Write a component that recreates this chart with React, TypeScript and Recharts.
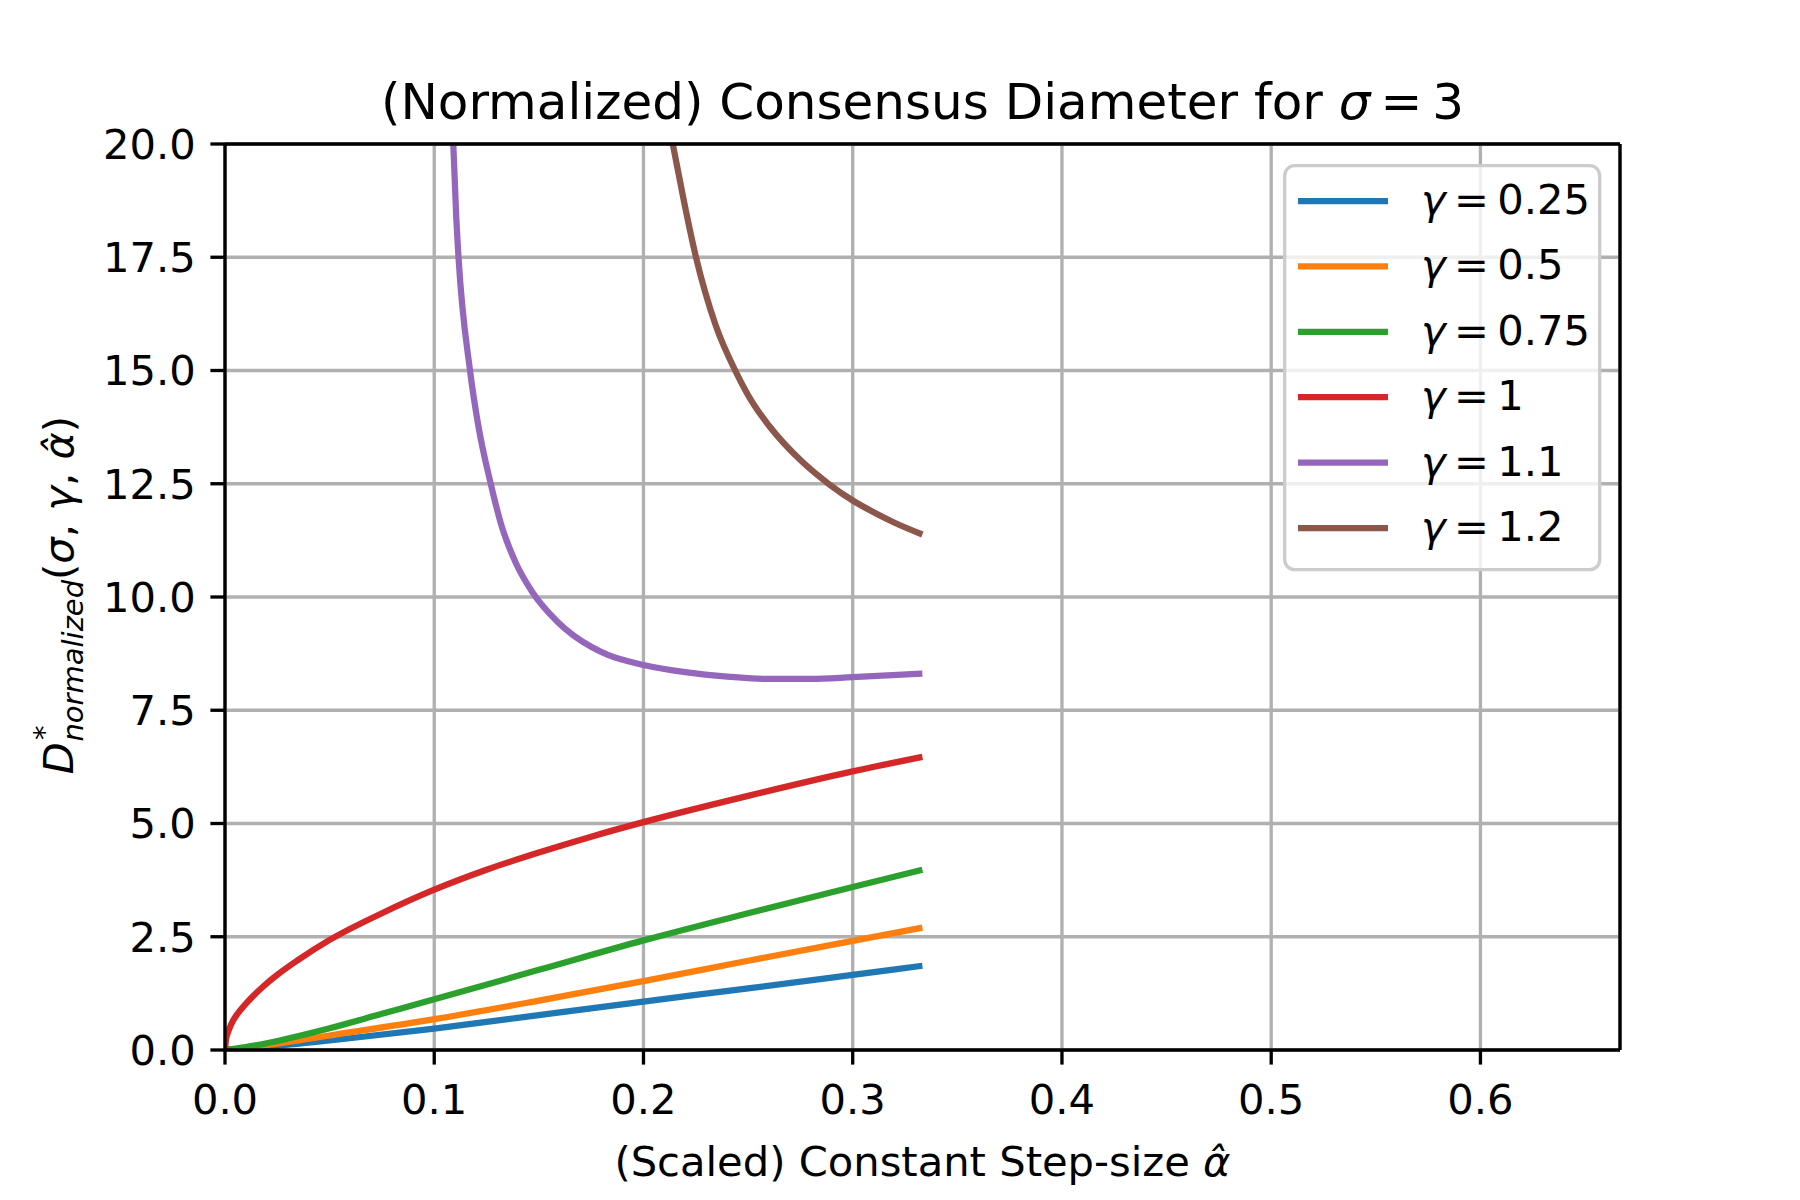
import React from "react";
import {
  LineChart,
  Line,
  XAxis,
  YAxis,
  CartesianGrid,
  Legend,
  ReferenceLine,
} from "recharts";

type Pt = { x: number; y: number };

const FONT = "DejaVu Sans";
const FS = 41.67;
const LW = 3.33;
const THIN = "\u2009";

const xTicks = [0, 0.1, 0.2, 0.3, 0.4, 0.5, 0.6];
const yTicks = [0, 2.5, 5, 7.5, 10, 12.5, 15, 17.5, 20];

const gammas = ["0.25", "0.5", "0.75", "1", "1.1", "1.2"];
const colors = ["#1f77b4", "#ff7f0e", "#2ca02c", "#d62728", "#9467bd", "#8c564b"];

// values, [alpha, D]
const g025: [number, number][] = [
  [0, 0], [0.01, 0.03], [0.02, 0.07], [0.05, 0.21], [0.1, 0.47], [0.15, 0.77],
  [0.2, 1.07], [0.25, 1.36], [0.3, 1.66], [0.3333, 1.86],
];
const g05: [number, number][] = [
  [0, 0], [0.01, 0.05], [0.02, 0.11], [0.05, 0.32], [0.1, 0.68], [0.15, 1.09],
  [0.2, 1.52], [0.25, 1.97], [0.3, 2.41], [0.3333, 2.7],
];
const g075: [number, number][] = [
  [0, 0], [0.01, 0.065], [0.02, 0.15], [0.05, 0.48], [0.075, 0.8], [0.1, 1.12],
  [0.15, 1.77], [0.2, 2.42], [0.25, 3.02], [0.3, 3.6], [0.3333, 3.98],
];
const g1: [number, number][] = [
  [0, 0], [0.0005, 0.24], [0.001, 0.33], [0.002, 0.46], [0.004, 0.66],
  [0.006, 0.8], [0.009, 0.97], [0.013, 1.17], [0.018, 1.39], [0.025, 1.66],
  [0.035, 1.99], [0.05, 2.43], [0.075, 3.02], [0.1, 3.54], [0.125, 3.98],
  [0.15, 4.36], [0.175, 4.71], [0.2, 5.03], [0.25, 5.61], [0.3, 6.15],
  [0.3333, 6.47],
];
const g11: [number, number][] = [
  [0.1091, 20], [0.1105, 18.4], [0.1116, 17.5], [0.1171, 15], [0.121, 13.8],
  [0.127, 12.5], [0.132, 11.6], [0.139, 10.75], [0.147, 10.1], [0.159, 9.45],
  [0.175, 8.9], [0.183, 8.72], [0.2, 8.5], [0.22, 8.34], [0.24, 8.24],
  [0.26, 8.19], [0.28, 8.19], [0.3, 8.23], [0.3333, 8.31],
];
const g12: [number, number][] = [
  [0.214, 20], [0.2195, 18.7], [0.2251, 17.5], [0.2345, 16.0], [0.2444, 14.95],
  [0.252, 14.3], [0.26, 13.78], [0.2755, 13.0], [0.289, 12.48], [0.3, 12.13],
  [0.31, 11.87], [0.32, 11.64], [0.3333, 11.38],
];

const series = [g025, g05, g075, g1, g11, g12].map((s) =>
  s.map(([x, y]): Pt => ({ x, y }))
);

function Title(props: any) {
  const vb = props.viewBox || {};
  const cx = (vb.x ?? 225) + (vb.width ?? 1395) / 2;
  const y = (vb.y ?? 144) - 25;
  return (
    <text x={cx} y={y} textAnchor="middle" fontFamily={FONT} fontSize={50} fill="#000">
      (Normalized) Consensus Diameter for{" "}
      <tspan fontStyle="italic">σ</tspan>
      {`${THIN}=${THIN}3`}
    </text>
  );
}

function XLabel(props: any) {
  const vb = props.viewBox || {};
  const cx = (vb.x ?? 225) + (vb.width ?? 1395) / 2;
  return (
    <text x={cx} y={1176} textAnchor="middle" fontFamily={FONT} fontSize={FS} fill="#000">
      (Scaled) Constant Step-size <tspan fontStyle="italic">α̂</tspan>
    </text>
  );
}

function YLabel(props: any) {
  const vb = props.viewBox || {};
  const cy = (vb.y ?? 144) + (vb.height ?? 906) / 2;
  return (
    <text
      transform={`translate(73, ${cy - 2}) rotate(-90)`}
      textAnchor="middle"
      fontFamily={FONT}
      fontSize={FS}
      fill="#000"
    >
      <tspan fontStyle="italic">D</tspan>
      <tspan fontSize={29} dx={2} dy={-19}>*</tspan>
      <tspan fontSize={29} fontStyle="italic" dx={-16} dy={29}>normalized</tspan>
      <tspan dy={-10}>(</tspan>
      <tspan fontStyle="italic">σ</tspan>
      <tspan>, </tspan>
      <tspan fontStyle="italic">γ</tspan>
      <tspan>, </tspan>
      <tspan fontStyle="italic">α̂</tspan>
      <tspan>)</tspan>
    </text>
  );
}

function LegendBox() {
  return (
    <svg width={320} height={408}>
      <rect
        x={1.7}
        y={1.7}
        width={315}
        height={404}
        rx={10}
        fill="rgba(255,255,255,0.8)"
        stroke="#cccccc"
        strokeWidth={LW}
      />
      {gammas.map((g, i) => {
        const cy = 37 + i * 65.4;
        return (
          <g key={g}>
            <line x1={15} x2={105} y1={cy} y2={cy} stroke={colors[i]} strokeWidth={6.25} />
            <text x={138} y={cy + 13} fontFamily={FONT} fontSize={FS} fill="#000">
              <tspan fontStyle="italic">γ</tspan>
              {`${THIN}=${THIN}${g}`}
            </text>
          </g>
        );
      })}
    </svg>
  );
}

export default function App() {
  return (
    <div style={{ width: 1800, height: 1200, background: "#fff", position: "relative" }}>
      <style>{"body{margin:0}"}</style>
      <LineChart
        width={1800}
        height={1200}
        margin={{ top: 144, right: 180, bottom: 0, left: 0 }}
        style={{ fontFamily: FONT }}
      >
        <CartesianGrid stroke="#b0b0b0" strokeWidth={LW} />
        <XAxis
          type="number"
          dataKey="x"
          domain={[0, 0.6667]}
          ticks={xTicks}
          allowDataOverflow
          tickFormatter={(v: number) => v.toFixed(1)}
          tick={{ fill: "#000", fontSize: FS, fontFamily: FONT }}
          tickSize={14.6}
          tickMargin={20}
          axisLine={{ stroke: "#000", strokeWidth: LW }}
          tickLine={{ stroke: "#000", strokeWidth: LW }}
          height={150}
          label={{ content: XLabel }}
        />
        <YAxis
          type="number"
          domain={[0, 20]}
          ticks={yTicks}
          allowDataOverflow
          tickFormatter={(v: number) => v.toFixed(1)}
          tick={{ fill: "#000", fontSize: FS, fontFamily: FONT }}
          tickSize={14.6}
          tickMargin={14.6}
          axisLine={{ stroke: "#000", strokeWidth: LW }}
          tickLine={{ stroke: "#000", strokeWidth: LW }}
          width={225}
          label={{ content: YLabel }}
        />
        {series.map((d, i) => (
          <Line
            key={gammas[i]}
            data={d}
            dataKey="y"
            name={`γ = ${gammas[i]}`}
            type="monotone"
            stroke={colors[i]}
            strokeWidth={6.25}
            dot={false}
            activeDot={false}
            isAnimationActive={false}
          />
        ))}
        <ReferenceLine y={20} stroke="#000" strokeWidth={LW} label={{ content: Title }} />
        <ReferenceLine x={0.6667} stroke="#000" strokeWidth={LW} />
        <Legend
          layout="vertical"
          align="center"
          verticalAlign="middle"
          content={LegendBox}
          wrapperStyle={{ left: 1283, top: 164, width: 320, height: 408 }}
        />
      </LineChart>
    </div>
  );
}
